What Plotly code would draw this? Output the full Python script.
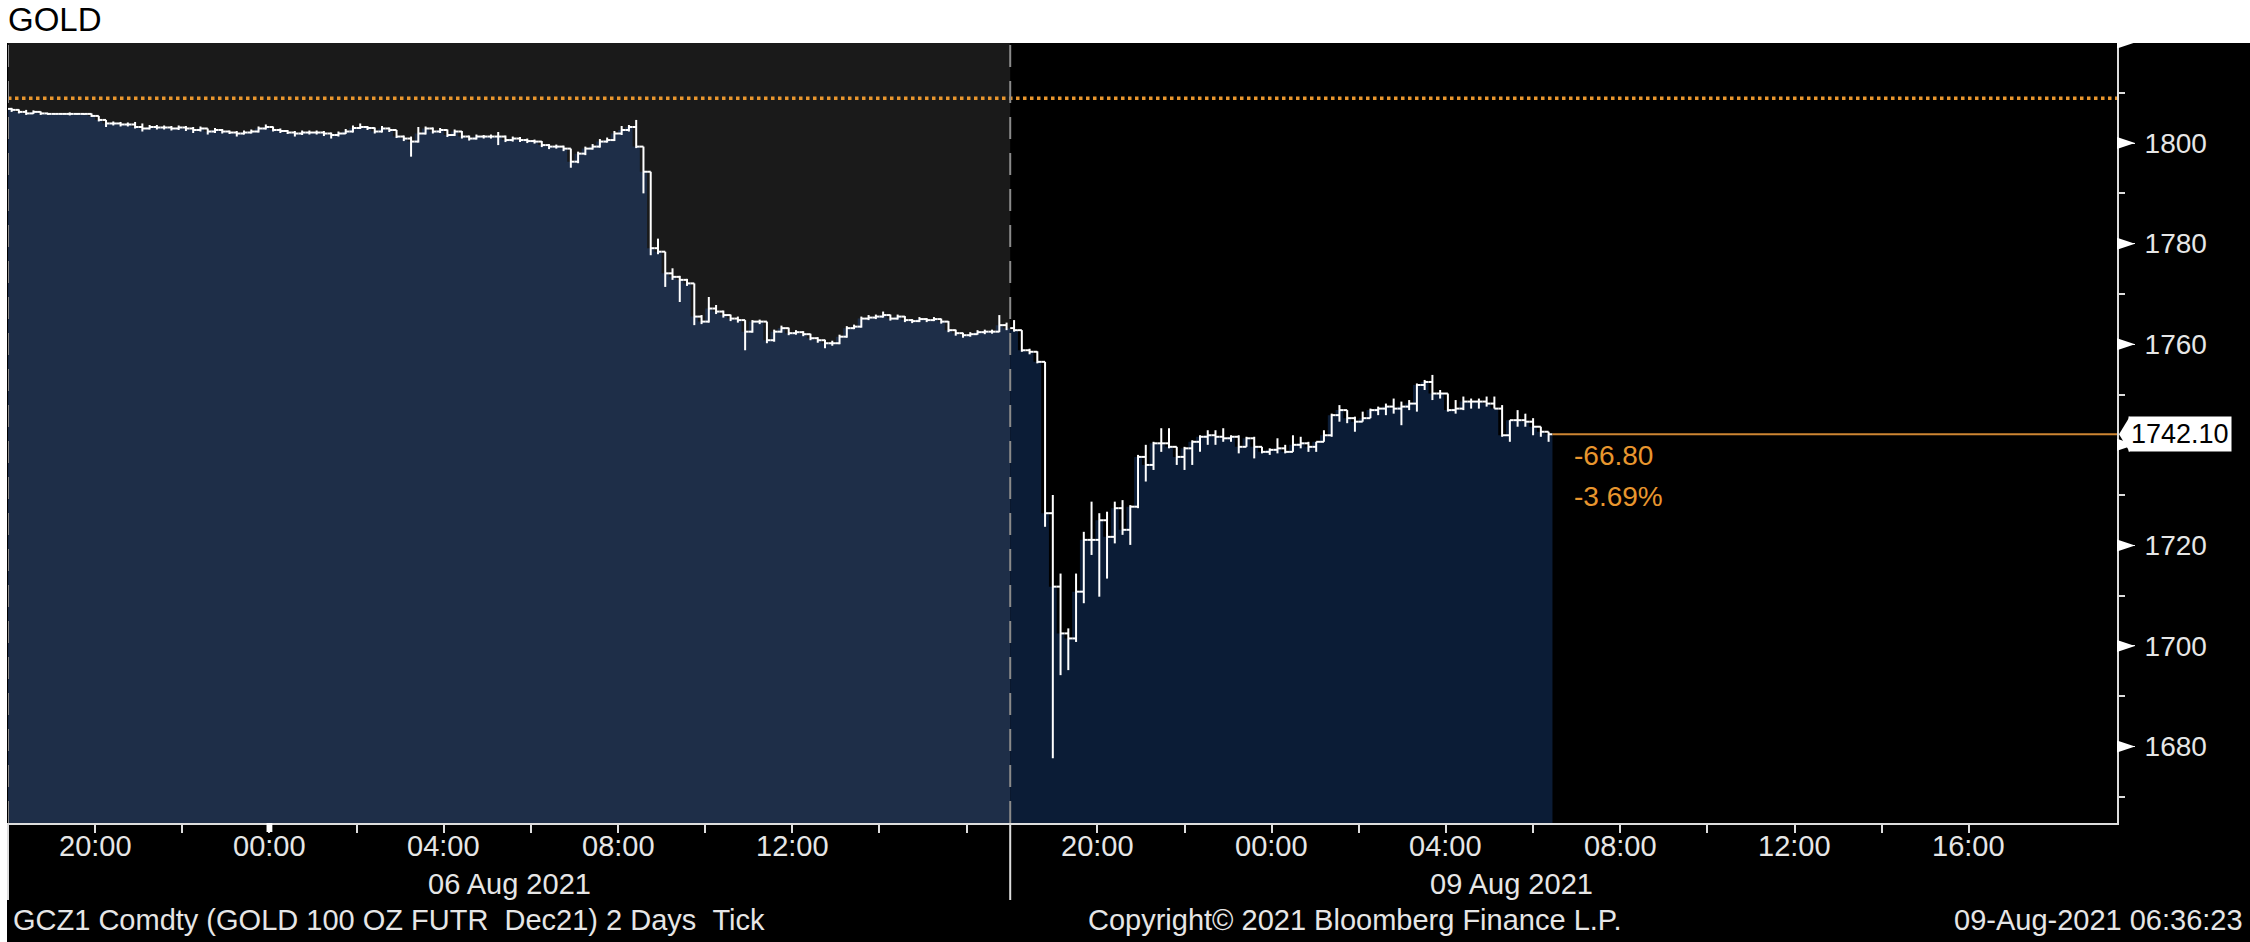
import numpy as np
import pandas as pd
import plotly.graph_objects as go

# ---------------- DATA ----------------
# Session 1 (06 Aug 2021 session, opens 05 Aug 18:00), 10-minute bars
s1_start = "2021-08-05 18:00"
s1_end = "2021-08-06 17:00"
s1_first_open = 1806.8
s1_close = [
    1806.6, 1806.2, 1805.9, 1806.2, 1805.9, 1805.8, 1805.8, 1805.8, 1805.8, 1805.8,
    1805.8, 1805.4, 1804.6, 1803.9, 1803.9, 1803.7, 1803.7, 1803.2, 1802.9, 1803.2,
    1803.1, 1803.1, 1802.9, 1803.1, 1802.9, 1802.6, 1802.9, 1802.3, 1802.6, 1802.3,
    1802.1, 1801.9, 1802.1, 1802.3, 1802.9, 1803.2, 1802.6, 1802.4, 1802.1, 1801.9,
    1802.1, 1802.1, 1802.1, 1801.9, 1801.6, 1801.9, 1802.3, 1803.0, 1803.2, 1803.0,
    1802.3, 1802.9, 1802.6, 1801.3, 1800.9, 1800.3, 1801.9, 1802.9, 1802.3, 1802.6,
    1801.6, 1802.3, 1801.3, 1800.9, 1801.3, 1801.3, 1801.3, 1801.3, 1800.6, 1800.9,
    1800.6, 1800.4, 1800.3, 1799.6, 1799.3, 1799.3, 1798.9, 1796.3, 1797.9, 1798.9,
    1799.3, 1800.3, 1800.6, 1801.9, 1802.6, 1803.2, 1799.3, 1794.3, 1779.1, 1778.4,
    1774.1, 1773.4, 1772.8, 1772.1, 1765.5, 1764.5, 1767.1, 1766.5, 1765.8, 1765.1,
    1764.8, 1762.5, 1764.5, 1764.5, 1760.8, 1762.5, 1763.2, 1762.2, 1762.4, 1762.0,
    1761.2, 1760.8, 1760.2, 1760.2, 1761.5, 1763.2, 1763.5, 1765.1, 1765.3, 1765.5,
    1765.8, 1765.1, 1765.5, 1764.8, 1764.6, 1765.0, 1764.8, 1765.0, 1764.5, 1762.8,
    1762.2, 1761.8, 1762.0, 1762.4, 1762.5, 1762.5, 1763.8, 1763.2,
]
s1_high = [
    1807.0, 1806.7, 1806.6, 1806.5, 1806.3, 1806.0, 1805.9, 1805.9, 1806.1, 1805.9,
    1805.9, 1805.9, 1805.4, 1804.6, 1804.3, 1804.2, 1804.1, 1804.2, 1803.9, 1803.6,
    1803.6, 1803.5, 1803.4, 1803.5, 1803.4, 1803.2, 1803.3, 1802.9, 1803.0, 1802.8,
    1802.5, 1802.4, 1802.5, 1802.7, 1803.3, 1803.7, 1803.3, 1802.9, 1802.6, 1802.4,
    1802.5, 1802.5, 1802.5, 1802.4, 1802.1, 1802.3, 1802.8, 1803.5, 1803.9, 1803.4,
    1803.1, 1803.4, 1803.1, 1802.6, 1801.5, 1801.3, 1803.2, 1803.3, 1803.1, 1803.0,
    1802.7, 1802.7, 1802.4, 1801.5, 1801.7, 1801.6, 1801.7, 1802.2, 1801.5, 1801.3,
    1801.2, 1800.9, 1800.7, 1800.4, 1799.8, 1799.7, 1799.5, 1798.9, 1798.3, 1799.3,
    1799.8, 1800.8, 1801.1, 1802.4, 1803.4, 1803.6, 1804.6, 1799.3, 1794.3, 1781.0,
    1778.4, 1775.1, 1773.6, 1773.0, 1772.1, 1765.8, 1769.4, 1767.8, 1766.7, 1765.9,
    1765.5, 1764.8, 1764.8, 1764.9, 1764.5, 1762.9, 1763.7, 1763.3, 1762.8, 1762.6,
    1762.1, 1761.4, 1760.9, 1760.7, 1761.9, 1763.6, 1763.9, 1765.5, 1765.8, 1765.9,
    1766.5, 1765.9, 1765.9, 1765.6, 1765.0, 1765.4, 1765.2, 1765.4, 1765.1, 1764.6,
    1762.9, 1762.3, 1762.4, 1762.8, 1762.9, 1762.9, 1765.8, 1764.3,
]
s1_low = [
    1806.2, 1805.9, 1805.6, 1805.8, 1805.6, 1805.6, 1805.7, 1805.7, 1805.5, 1805.7,
    1805.6, 1805.2, 1804.3, 1803.2, 1803.5, 1803.3, 1803.3, 1802.9, 1802.3, 1802.7,
    1802.7, 1802.7, 1802.5, 1802.6, 1802.4, 1802.0, 1802.3, 1801.7, 1802.0, 1801.9,
    1801.8, 1801.3, 1801.7, 1801.9, 1802.1, 1802.7, 1802.3, 1802.0, 1801.8, 1801.3,
    1801.6, 1801.7, 1801.7, 1801.4, 1800.9, 1801.3, 1801.8, 1802.1, 1802.8, 1802.6,
    1801.9, 1802.1, 1802.2, 1801.0, 1800.4, 1797.3, 1800.1, 1801.7, 1801.9, 1802.0,
    1801.2, 1801.4, 1800.9, 1800.5, 1800.7, 1800.9, 1800.9, 1799.6, 1800.2, 1800.3,
    1800.2, 1800.0, 1799.9, 1799.2, 1798.8, 1798.9, 1798.4, 1795.1, 1796.0, 1797.6,
    1798.7, 1799.1, 1800.1, 1800.4, 1801.6, 1802.3, 1799.0, 1790.0, 1777.7, 1777.9,
    1771.4, 1772.8, 1768.4, 1771.6, 1763.8, 1764.0, 1764.3, 1766.0, 1765.3, 1764.6,
    1764.3, 1758.8, 1762.3, 1764.0, 1760.2, 1760.5, 1762.3, 1761.8, 1761.9, 1761.6,
    1760.8, 1760.3, 1759.2, 1759.7, 1760.0, 1761.3, 1763.0, 1763.3, 1764.8, 1765.0,
    1765.3, 1764.7, 1764.9, 1764.4, 1764.2, 1764.4, 1764.4, 1764.6, 1764.1, 1762.4,
    1761.7, 1761.3, 1761.5, 1761.9, 1762.0, 1762.1, 1762.4, 1762.8,
]

# Session 2 (09 Aug 2021 session, opens 08 Aug 18:00)
s2_start = "2021-08-08 18:00"
s2_bar_seconds = 640
s2_close = [
    1762.8, 1758.8, 1758.5, 1756.5, 1726.4, 1711.8, 1702.5, 1701.5, 1710.8, 1721.1,
    1721.1, 1725.0, 1721.7, 1727.4, 1723.1, 1727.7, 1737.6, 1736.0, 1740.3, 1740.3,
    1739.6, 1737.6, 1739.3, 1740.6, 1741.6, 1741.9, 1741.6, 1741.3, 1741.6, 1739.6,
    1741.3, 1739.6, 1738.6, 1739.0, 1739.3, 1738.6, 1740.0, 1740.3, 1739.6, 1740.6,
    1741.9, 1745.9, 1746.9, 1745.3, 1744.6, 1745.3, 1746.9, 1747.2, 1747.6, 1747.2,
    1747.6, 1748.2, 1751.9, 1752.5, 1750.2, 1750.2, 1746.9, 1747.2, 1748.6, 1748.6,
    1748.6, 1748.2, 1747.2, 1741.9, 1744.9, 1744.9, 1744.6, 1743.6, 1742.6, 1742.1,
]
s2_high = [
    1764.8, 1762.8, 1759.1, 1758.6, 1756.5, 1730.0, 1714.4, 1703.5, 1714.4, 1722.7,
    1728.7, 1726.4, 1726.7, 1728.7, 1729.0, 1728.0, 1738.0, 1740.0, 1740.6, 1743.3,
    1743.3, 1739.6, 1739.6, 1740.9, 1741.9, 1742.9, 1742.9, 1743.3, 1741.9, 1741.9,
    1741.6, 1741.6, 1739.6, 1739.3, 1741.3, 1740.0, 1741.9, 1741.6, 1740.6, 1740.6,
    1742.9, 1746.2, 1747.9, 1746.9, 1745.6, 1746.6, 1747.2, 1747.6, 1748.2, 1749.2,
    1748.6, 1748.9, 1752.2, 1752.9, 1753.9, 1750.9, 1749.2, 1748.9, 1749.6, 1749.2,
    1749.2, 1749.6, 1749.6, 1747.9, 1744.9, 1746.9, 1746.2, 1745.3, 1742.9, 1742.6,
]
s2_low = [
    1762.5, 1758.5, 1758.0, 1756.2, 1723.7, 1677.7, 1694.2, 1695.2, 1700.8, 1708.5,
    1718.1, 1709.8, 1713.4, 1720.4, 1722.1, 1720.1, 1727.4, 1732.7, 1735.0, 1738.6,
    1739.3, 1736.0, 1735.0, 1736.0, 1738.6, 1740.0, 1740.0, 1740.6, 1740.6, 1738.3,
    1740.0, 1737.3, 1738.3, 1738.0, 1738.3, 1738.3, 1738.6, 1739.3, 1738.6, 1738.6,
    1740.6, 1741.6, 1744.6, 1744.3, 1742.6, 1744.6, 1745.3, 1745.9, 1745.9, 1746.2,
    1743.9, 1746.9, 1746.6, 1750.9, 1748.9, 1749.2, 1746.6, 1746.2, 1746.9, 1747.2,
    1747.2, 1747.6, 1747.2, 1741.6, 1740.6, 1743.6, 1743.6, 1741.9, 1741.6, 1740.6,
]

prev_close = 1808.9
last_price = 1742.10
net_change = "-66.80"
pct_change = "-3.69%"

x_range = ["2021-08-05 18:00", "2021-08-09 19:24"]
s1_tick_times = ["2021-08-05 20:00", "2021-08-05 22:00", "2021-08-06 00:00", "2021-08-06 02:00",
                 "2021-08-06 04:00", "2021-08-06 06:00", "2021-08-06 08:00", "2021-08-06 10:00",
                 "2021-08-06 12:00", "2021-08-06 14:00", "2021-08-06 16:00"]
s1_tick_labels = ["20:00", "", "00:00", "", "04:00", "", "08:00", "", "12:00", "", ""]
s2_tick_times = ["2021-08-08 20:00", "2021-08-08 22:00", "2021-08-09 00:00", "2021-08-09 02:00",
                 "2021-08-09 04:00", "2021-08-09 06:00", "2021-08-09 08:00", "2021-08-09 10:00",
                 "2021-08-09 12:00", "2021-08-09 14:00", "2021-08-09 16:00"]
s2_tick_labels = ["20:00", "", "00:00", "", "04:00", "", "08:00", "", "12:00", "", "16:00"]
day_labels = ["06 Aug 2021", "09 Aug 2021"]

y_range = [1664.8, 1819.9]
y_tick_vals = [1680, 1700, 1720, 1740, 1760, 1780, 1800, 1820]
y_tick_text = ["1680", "1700", "1720", "", "1760", "1780", "1800", ""]

title_text = "GOLD"
footer_left = "GCZ1 Comdty (GOLD 100 OZ FUTR \u00a0Dec21) 2 Days \u00a0Tick"
footer_mid = "Copyright\u00a9 2021 Bloomberg Finance L.P."
footer_right = "09-Aug-2021 06:36:23"

# ---------------- BUILD ----------------
FONT = "Liberation Sans, Arial, Helvetica, sans-serif"
TXT = "#e6e6e6"
S1_BG = "#1a1a1a"
S1_FILL = "#1e2e48"
S2_FILL = "#0b1c36"
ORANGE_DOT = "#e8962e"
ORANGE_LINE = "#cd8532"

t1 = pd.date_range(s1_start, periods=len(s1_close), freq="10min")
t2 = pd.date_range(s2_start, periods=len(s2_close), freq=f"{s2_bar_seconds}s")
half1 = pd.Timedelta(minutes=5)
half2 = pd.Timedelta(seconds=s2_bar_seconds / 2)
s1_end_ts = pd.Timestamp(s1_end) - pd.Timedelta(seconds=1)
s2_end_ts = t2[-1] + pd.Timedelta(seconds=s2_bar_seconds)

c1 = np.array(s1_close)
o1 = np.concatenate([[s1_first_open], c1[:-1]])
h1 = np.maximum.reduce([np.array(s1_high), o1, c1])
l1 = np.minimum.reduce([np.array(s1_low), o1, c1])

c2 = np.array(s2_close)
o2 = np.concatenate([[c1[-1]], c2[:-1]])
h2 = np.maximum.reduce([np.array(s2_high), o2, c2])
l2 = np.minimum.reduce([np.array(s2_low), o2, c2])

fig = go.Figure()

# filled areas under the closes
fig.add_trace(go.Scatter(
    x=list(t1) + [s1_end_ts], y=list(c1) + [c1[-1]],
    mode="lines", line=dict(shape="hv", width=0, color=S1_FILL),
    fill="tozeroy", fillcolor=S1_FILL, hoverinfo="skip", showlegend=False))
fig.add_trace(go.Scatter(
    x=list(t2) + [s2_end_ts], y=list(c2) + [c2[-1]],
    mode="lines", line=dict(shape="hv", width=0, color=S2_FILL),
    fill="tozeroy", fillcolor=S2_FILL, hoverinfo="skip", showlegend=False))


# OHLC bars (open tick left, high-low line, close tick right), drawn above the fills
def bar_path(times, half, o, h, l, c):
    xs, ys = [], []
    for t, oo, hh, ll, cc in zip(times, o, h, l, c):
        m = t + half
        xs += [t, m, None, m, m, None, m, m + half, None]
        ys += [oo, oo, None, hh, ll, None, cc, cc, None]
    return xs, ys


for times, half, o, h, l, c in [(t1, half1, o1, h1, l1, c1), (t2, half2, o2, h2, l2, c2)]:
    bx, by = bar_path(times, half, o, h, l, c)
    fig.add_trace(go.Scatter(x=bx, y=by, mode="lines", connectgaps=False,
                             line=dict(color="white", width=2), hoverinfo="skip", showlegend=False))

H, W = 942, 2250
ml, mr, mt, mb = 8, 133, 43, 119
ph = H - mt - mb
pw = W - ml - mr
units_per_px = (y_range[1] - y_range[0]) / ph


def py(px):
    return (H - mb - px) / ph


def pxp(px):
    return (px - ml) / pw


shapes = []
# black chart panel
shapes.append(dict(type="rect", xref="paper", yref="paper", x0=pxp(7), x1=pxp(W + 5),
                   y0=py(H + 5), y1=1, fillcolor="black", line=dict(width=0), layer="below"))
# session 1 background
shapes.append(dict(type="rect", xref="x", yref="paper", x0=t1[0], x1=t2[0], y0=0, y1=1,
                   fillcolor=S1_BG, line=dict(width=0), layer="below"))
# previous close dotted
shapes.append(dict(type="line", xref="paper", yref="y", x0=0, x1=1, y0=prev_close, y1=prev_close,
                   line=dict(color=ORANGE_DOT, width=3.5, dash="dot"), layer="above"))
# last price line
shapes.append(dict(type="line", xref="x", yref="y", x0=s2_end_ts, x1=x_range[1],
                   y0=last_price, y1=last_price, line=dict(color=ORANGE_LINE, width=2), layer="above"))
# session boundaries (dashed in plot, solid below axis)
for xb in [t1[0], t2[0]]:
    shapes.append(dict(type="line", xref="x", yref="paper", x0=xb, x1=xb, y0=0, y1=1,
                       line=dict(color="#8a8a8a", width=2, dash="22px,14px"), layer="above"))
    shapes.append(dict(type="line", xref="x", yref="paper", x0=xb, x1=xb, y0=py(900), y1=0,
                       line=dict(color="#dddddd", width=2), layer="above"))
shapes.append(dict(type="line", xref="paper", yref="paper", x0=pxp(8), x1=pxp(8), y0=py(900), y1=0,
                   line=dict(color="#dddddd", width=2), layer="above"))
# day boundary marker on the axis
shapes.append(dict(type="rect", xref="x", yref="paper",
                   x0=pd.Timestamp("2021-08-06 00:00") - pd.Timedelta(minutes=4),
                   x1=pd.Timestamp("2021-08-06 00:00") + pd.Timedelta(minutes=4),
                   y0=py(832), y1=0, fillcolor="white", line=dict(width=0), layer="above"))
# triangular tick markers on the price axis
for v in y_tick_vals:
    d = 6 * units_per_px
    shapes.append(dict(type="path", xref="paper", yref="y",
                       path=f"M {pxp(2117)},{v + d} L {pxp(2135)},{v} L {pxp(2117)},{v - d} Z",
                       fillcolor="white", line=dict(width=0), layer="above"))
# pointer of last price label
shapes.append(dict(type="path", xref="paper", yref="y",
                   path=f"M {pxp(2119)},{last_price} L {pxp(2130)},{last_price + 3.6} "
                        f"L {pxp(2130)},{last_price - 3.6} Z",
                   fillcolor="white", line=dict(width=0), layer="above"))

annotations = [
    dict(text=title_text, xref="paper", yref="paper", x=pxp(6), y=py(19), xanchor="left",
         yanchor="middle", showarrow=False, font=dict(family=FONT, size=33, color="black")),
    dict(text=f"{last_price:.2f}", xref="paper", yref="y", x=pxp(2128), y=last_price,
         xanchor="left", yanchor="middle", showarrow=False, bgcolor="white", borderpad=2,
         font=dict(family=FONT, size=27, color="black")),
    dict(text=net_change, xref="x", yref="y", x=s2_end_ts, y=last_price, xshift=20, yshift=-21,
         xanchor="left", yanchor="middle", showarrow=False,
         font=dict(family=FONT, size=28, color=ORANGE_DOT)),
    dict(text=pct_change, xref="x", yref="y", x=s2_end_ts, y=last_price, xshift=20, yshift=-62,
         xanchor="left", yanchor="middle", showarrow=False,
         font=dict(family=FONT, size=28, color=ORANGE_DOT)),
    dict(text=day_labels[0], xref="x", yref="paper", x=t1[0] + (pd.Timestamp(s1_end) - t1[0]) / 2,
         y=py(884), xanchor="center", yanchor="middle", showarrow=False,
         font=dict(family=FONT, size=29, color=TXT)),
    dict(text=day_labels[1], xref="x", yref="paper", x=t2[0] + (pd.Timestamp(s1_end) - t1[0]) / 2,
         y=py(884), xanchor="center", yanchor="middle", showarrow=False,
         font=dict(family=FONT, size=29, color=TXT)),
    dict(text=footer_left, xref="paper", yref="paper", x=pxp(11), y=py(920), xanchor="left",
         yanchor="middle", showarrow=False, font=dict(family=FONT, size=29, color=TXT)),
    dict(text=footer_mid, xref="paper", yref="paper", x=pxp(1354), y=py(920), xanchor="center",
         yanchor="middle", showarrow=False, font=dict(family=FONT, size=29, color=TXT)),
    dict(text=footer_right, xref="paper", yref="paper", x=pxp(2245), y=py(920), xanchor="right",
         yanchor="middle", showarrow=False, font=dict(family=FONT, size=29, color=TXT)),
]
# time-of-day labels under the axis
for tv, tl in zip(s1_tick_times + s2_tick_times, s1_tick_labels + s2_tick_labels):
    if tl:
        annotations.append(dict(text=tl, xref="x", yref="paper", x=tv, y=py(846),
                                xanchor="center", yanchor="middle", showarrow=False,
                                font=dict(family=FONT, size=29, color=TXT)))

fig.update_layout(
    width=W, height=H,
    margin=dict(l=ml, r=mr, t=mt, b=mb, pad=0),
    paper_bgcolor="white", plot_bgcolor="rgba(0,0,0,0)",
    showlegend=False,
    shapes=shapes, annotations=annotations,
    font=dict(family=FONT, color=TXT),
    xaxis=dict(
        type="date", range=x_range,
        rangebreaks=[dict(bounds=[s1_end, s2_start])],
        tickmode="array", tickvals=s1_tick_times + s2_tick_times,
        ticktext=s1_tick_labels + s2_tick_labels, showticklabels=False,
        ticks="outside", ticklen=8, tickwidth=2, tickcolor="#dddddd",
        showline=True, linecolor="#dddddd", linewidth=2,
        showgrid=False, zeroline=False,
    ),
    yaxis=dict(
        side="right", range=y_range,
        tickmode="array", tickvals=y_tick_vals, ticktext=y_tick_text,
        ticks="outside", ticklen=16, tickwidth=1, tickcolor="#eeeeee",
        tickfont=dict(family=FONT, size=28, color=TXT),
        ticklabelstandoff=4,
        minor=dict(ticks="outside", ticklen=6, tickwidth=2, tickcolor="#dddddd",
                   tickmode="linear", tick0=1670, dtick=20),
        showline=True, linecolor="#dddddd", linewidth=2,
        showgrid=False, zeroline=False,
    ),
)

fig.write_html("out.html", config={"displayModeBar": False},
               post_script="document.body.style.margin='0px';")
